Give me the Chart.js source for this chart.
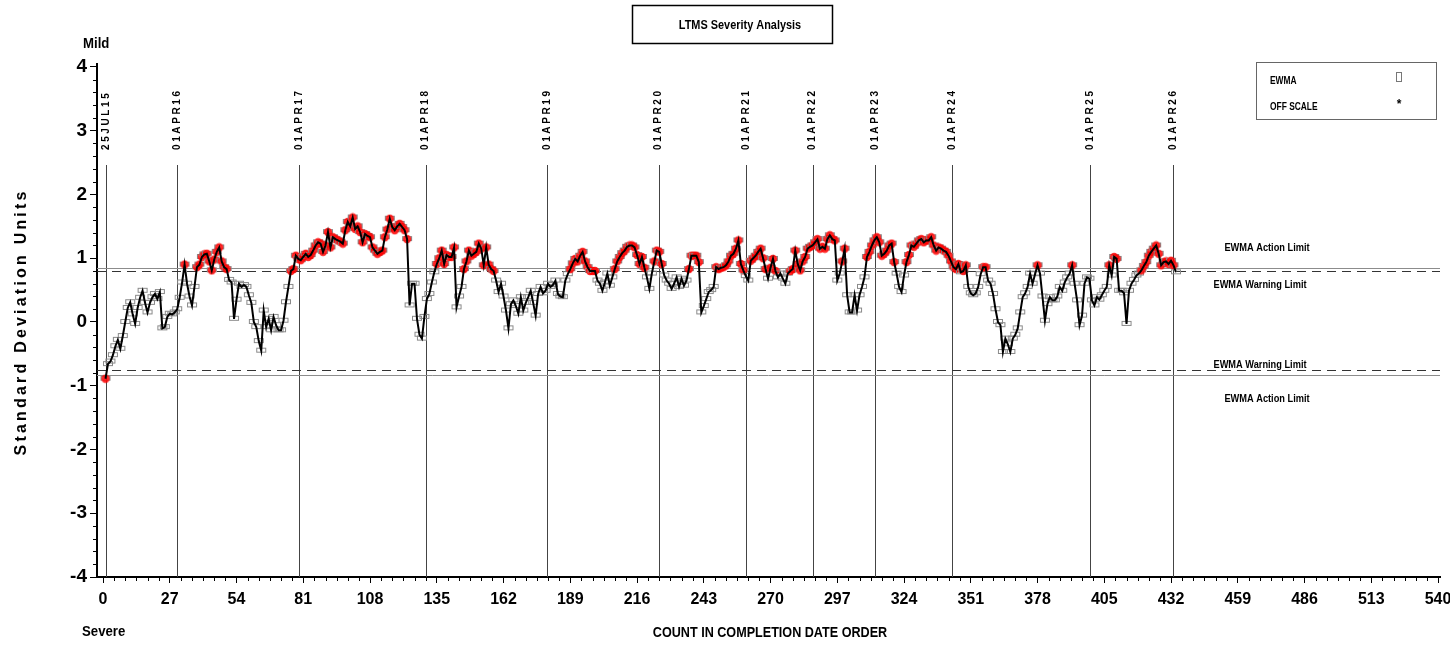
<!DOCTYPE html>
<html>
<head>
<meta charset="utf-8">
<title>LTMS Severity Analysis</title>
<script src="https://cdn.jsdelivr.net/npm/chart.js@4.4.0/dist/chart.umd.min.js"></script>
<style>
  html, body { margin: 0; padding: 0; background: #fff; }
  #wrap { width: 1450px; height: 645px; }
</style>
</head>
<body>
<div id="wrap"><canvas id="myChart" width="1450" height="645"></canvas></div>
<script>
// EWMA values, one per test, in completion date order (count 1..434)
const ewma = [
  -0.89, -0.66, -0.62, -0.52, -0.38, -0.28, -0.42, -0.22, 0.00, 0.22,
   0.31,  0.12, -0.03,  0.22,  0.38,  0.49,  0.30,  0.15, 0.30, 0.39,
   0.44,  0.36,  0.47, -0.10, -0.08,  0.08,  0.13,  0.12, 0.15, 0.20,
   0.38,  0.62,  0.90,  0.60,  0.40,  0.26,  0.55,  0.86, 0.90, 1.02,
   1.06,  1.07,  0.95,  0.81,  0.98,  1.10,  1.17,  0.95, 0.86, 0.83,
   0.66,  0.62,  0.05,  0.35,  0.60,  0.55,  0.58,  0.55, 0.42, 0.30,
   0.00, -0.08, -0.30, -0.45,  0.18, -0.08,  0.05, -0.13, 0.08, -0.05,
  -0.13, -0.13,  0.02,  0.31,  0.55,  0.80,  0.83,  1.04, 0.99, 0.97,
   1.02,  1.07,  1.02,  1.05,  1.12,  1.20,  1.25,  1.23, 1.10, 1.20,
   1.41,  1.17,  1.33,  1.30,  1.28,  1.26,  1.23,  1.44, 1.57, 1.50,
   1.64,  1.46,  1.50,  1.41,  1.25,  1.38,  1.35,  1.33, 1.17, 1.12,
   1.07,  1.10,  1.12,  1.33,  1.45,  1.62,  1.49,  1.44, 1.50, 1.54,
   1.49,  1.44,  1.30,  0.26,  0.60,  0.60,  0.05, -0.20, -0.26, 0.08,
   0.36,  0.44,  0.62,  0.78,  0.91,  1.00,  1.12,  0.91, 1.05, 1.02,
   1.02,  1.17,  0.23,  0.40,  0.55,  0.83,  0.95,  1.12, 1.04, 1.07,
   1.10,  1.23,  1.15,  0.89,  1.17,  0.90,  0.83,  0.80, 0.65, 0.47,
   0.60,  0.40,  0.18, -0.10,  0.28,  0.34,  0.25,  0.13, 0.39, 0.18,
   0.30,  0.39,  0.49,  0.30,  0.10,  0.44,  0.55,  0.45, 0.49, 0.60,
   0.55,  0.58,  0.65,  0.44,  0.40,  0.39,  0.65,  0.75, 0.83, 0.92,
   0.99,  0.95,  1.04,  1.10,  0.95,  0.86,  0.80,  0.80, 0.80, 0.65,
   0.60,  0.49,  0.62,  0.76,  0.57,  0.70,  0.83,  0.95, 1.02, 1.08,
   1.12,  1.18,  1.20,  1.20,  1.17,  1.05,  0.91,  1.02, 0.85, 0.70,
   0.52,  0.76,  0.95,  1.12,  1.10,  0.91,  0.73,  0.65, 0.60, 0.52,
   0.60,  0.70,  0.55,  0.68,  0.57,  0.65,  0.83,  1.04, 1.04, 1.04,
   0.94,  0.15,  0.25,  0.36,  0.47,  0.50,  0.55,  0.86, 0.83, 0.85,
   0.86,  0.89,  0.95,  1.04,  1.07,  1.15,  1.28,  0.91, 0.81, 0.72,
   0.65,  0.96,  1.00,  1.04,  1.10,  1.15,  1.00,  0.83, 0.68, 0.85,
   0.99,  0.80,  0.70,  0.76,  0.68,  0.60,  0.76,  0.80, 0.83, 1.12,
   0.91,  0.81,  0.95,  1.02,  1.15,  1.18,  1.20,  1.25, 1.30, 1.15,
   1.18,  1.15,  1.30,  1.36,  1.30,  1.28,  0.65,  0.76, 0.95, 1.15,
   0.42,  0.15,  0.15,  0.42,  0.18,  0.42,  0.55,  0.70, 1.02, 1.10,
   1.20,  1.28,  1.33,  1.25,  1.04,  1.07,  1.12,  1.20, 1.23, 0.94,
   0.76,  0.55,  0.47,  0.73,  0.94,  1.05,  1.20,  1.18, 1.23, 1.28,
   1.30,  1.25,  1.28,  1.28,  1.33,  1.20,  1.12,  1.17, 1.15, 1.12,
   1.10,  1.04,  0.95,  0.86,  0.83,  0.91,  0.78,  0.80, 0.89, 0.55,
   0.45,  0.42,  0.45,  0.55,  0.75,  0.86,  0.86,  0.65, 0.60, 0.44,
   0.20,  0.00, -0.05, -0.47, -0.26, -0.35, -0.47, -0.26, -0.20, -0.10,
   0.15,  0.39,  0.45,  0.55,  0.76,  0.60,  0.75,  0.89, 0.76, 0.40,
   0.02,  0.28,  0.39,  0.34,  0.34,  0.40,  0.55,  0.49, 0.62, 0.70,
   0.76,  0.89,  0.60,  0.34, -0.05,  0.10,  0.60,  0.70, 0.68, 0.34,
   0.26,  0.39,  0.35,  0.42,  0.49,  0.55,  0.89,  0.73, 1.02, 0.99,
   0.49,  0.49,  0.45, -0.03,  0.49,  0.60,  0.66,  0.73, 0.76, 0.81,
   0.88,  0.94,  1.04,  1.10,  1.15,  1.20,  1.07,  0.89, 0.94, 0.95,
   0.91,  0.96,  0.89,  0.78
];

const xTicks = [0, 27, 54, 81, 108, 135, 162, 189, 216, 243, 270, 297, 324, 351, 378, 405, 432, 459, 486, 513, 540];
const yTicks = [-4, -3, -2, -1, 0, 1, 2, 3, 4];

// reference dates marked as vertical lines (position = count)
const dateLabels = ['25JUL15', '01APR16', '01APR17', '01APR18', '01APR19', '01APR20', '01APR21', '01APR22', '01APR23', '01APR24', '01APR25', '01APR26'];
const dateCounts = [1.2, 30, 79.3, 130.5, 179.7, 224.7, 260.1, 287, 312.2, 343.6, 399.4, 433];

// EWMA limits
const upperAction = 0.85;
const upperWarning = 0.795;
const lowerWarning = -0.75;
const lowerAction = -0.835;

const FONT = "'Liberation Sans Narrow', 'Liberation Sans', Arial, sans-serif";

const points = ewma.map((v, i) => ({ x: i + 1, y: v }));

// marker images: open grey box, and red dot for values beyond the warning limits
function makeMarker(red) {
    const c = document.createElement('canvas');
    c.width = 12; c.height = 10;
    const g = c.getContext('2d');
    g.strokeStyle = '#8a8a8a';
    g.lineWidth = 1;
    g.strokeRect(1.5, 2.5, 9, 4);
    if (red) {
        g.fillStyle = 'rgba(255, 0, 0, 0.85)';
        g.beginPath();
        g.arc(6, 5, 4.2, 0, Math.PI * 2);
        g.fill();
    }
    return c;
}
const boxImg = makeMarker(false);
const redImg = makeMarker(true);

// text squeezed horizontally, to look like the narrow font of the original
function narrowText(ctx, text, x, y, sx) {
    ctx.save();
    ctx.translate(x, y);
    ctx.scale(sx, 1);
    ctx.fillText(text, 0, 0);
    ctx.restore();
}
function spacedText(ctx, text, x, y, spacing) {
    let cx = x;
    for (const ch of text) {
        ctx.fillText(ch, cx, y);
        cx += ctx.measureText(ch).width + spacing;
    }
}
function spacedWidth(ctx, text, spacing) {
    let w = 0;
    for (const ch of text) w += ctx.measureText(ch).width + spacing;
    return w - spacing;
}

const decor = {
    id: 'decor',
    beforeDatasetsDraw(chart) {
        const { ctx, chartArea: a, scales: { x, y } } = chart;
        ctx.save();

        // vertical date lines
        ctx.strokeStyle = '#444';
        ctx.lineWidth = 1;
        dateCounts.forEach(c => {
            const px = Math.round(x.getPixelForValue(c)) + 0.5;
            ctx.beginPath();
            ctx.moveTo(px, 165);
            ctx.lineTo(px, a.bottom);
            ctx.stroke();
        });

        // action limits (solid grey)
        ctx.strokeStyle = '#8c8c8c';
        [upperAction, lowerAction].forEach(v => {
            const py = Math.round(y.getPixelForValue(v)) + 0.5;
            ctx.beginPath();
            ctx.moveTo(a.left, py);
            ctx.lineTo(a.right, py);
            ctx.stroke();
        });

        // warning limits (dashed)
        ctx.strokeStyle = '#333';
        ctx.setLineDash([9, 6]);
        [upperWarning, lowerWarning].forEach(v => {
            const py = Math.round(y.getPixelForValue(v)) + 0.5;
            ctx.beginPath();
            ctx.moveTo(a.left, py);
            ctx.lineTo(a.right, py);
            ctx.stroke();
        });
        ctx.restore();
    },
    afterDraw(chart) {
        const { ctx, chartArea: a, scales: { x, y } } = chart;
        ctx.save();
        ctx.fillStyle = '#000';

        // minor ticks
        ctx.strokeStyle = '#000';
        ctx.lineWidth = 1;
        for (let v = -4; v < 4; v += 0.2) {
            if (Math.abs(v - Math.round(v)) < 0.01) continue;
            const py = Math.round(y.getPixelForValue(v)) + 0.5;
            ctx.beginPath(); ctx.moveTo(a.left - 4, py); ctx.lineTo(a.left, py); ctx.stroke();
        }
        for (let v = 0; v < 540; v += 4.5) {
            if (v % 27 === 0) continue;
            const px = Math.round(x.getPixelForValue(v)) + 0.5;
            ctx.beginPath(); ctx.moveTo(px, a.bottom); ctx.lineTo(px, a.bottom + 4); ctx.stroke();
        }

        // date labels, reading bottom to top, letter spaced
        ctx.font = 'bold 10px ' + FONT;
        ctx.textBaseline = 'middle';
        ctx.textAlign = 'left';
        dateLabels.forEach((t, i) => {
            const px = x.getPixelForValue(dateCounts[i]);
            ctx.save();
            ctx.translate(px, 150);
            ctx.rotate(-Math.PI / 2);
            spacedText(ctx, t, 0, 0, 2.6);
            ctx.restore();
        });

        // limit labels
        ctx.font = 'bold 11px ' + FONT;
        ctx.textAlign = 'center';
        ctx.textBaseline = 'middle';
        narrowText(ctx, 'EWMA Action Limit', 1267, y.getPixelForValue(upperAction) - 20, 0.84);
        narrowText(ctx, 'EWMA Warning Limit', 1260, y.getPixelForValue(upperWarning) + 14, 0.84);
        narrowText(ctx, 'EWMA Warning Limit', 1260, y.getPixelForValue(lowerWarning) - 5, 0.84);
        narrowText(ctx, 'EWMA Action Limit', 1267, y.getPixelForValue(lowerAction) + 24, 0.84);

        // title box
        ctx.lineWidth = 1.5;
        ctx.strokeRect(632.5, 5.5, 200, 38);
        ctx.font = 'bold 13px ' + FONT;
        narrowText(ctx, 'LTMS Severity Analysis', 740, 25, 0.84);

        // legend box
        ctx.lineWidth = 1;
        ctx.strokeStyle = '#666';
        ctx.strokeRect(1256.5, 62.5, 180, 57);
        ctx.textAlign = 'left';
        ctx.font = 'bold 10px ' + FONT;
        narrowText(ctx, 'EWMA', 1270, 81, 0.84);
        narrowText(ctx, 'OFF SCALE', 1270, 107, 0.84);
        ctx.strokeStyle = '#777';
        ctx.strokeRect(1396.5, 72.5, 5, 9);
        ctx.font = 'bold 12px ' + FONT;
        ctx.textAlign = 'center';
        ctx.fillText('*', 1399, 105);

        // Mild / Severe
        ctx.font = 'bold 15px ' + FONT;
        ctx.textAlign = 'left';
        narrowText(ctx, 'Mild', 83, 44, 0.88);
        narrowText(ctx, 'Severe', 82, 632, 0.88);

        // x-axis title
        ctx.font = 'bold 14px ' + FONT;
        ctx.textAlign = 'center';
        narrowText(ctx, 'COUNT IN COMPLETION DATE ORDER', 770, 633, 0.9);

        // y-axis title, letter spaced
        ctx.font = 'bold 16px ' + FONT;
        ctx.textAlign = 'left';
        const title = 'Standard Deviation Units';
        const w = spacedWidth(ctx, title, 3.2);
        ctx.save();
        ctx.translate(22, (a.top + a.bottom) / 2 + 3 + w / 2);
        ctx.rotate(-Math.PI / 2);
        spacedText(ctx, title, 0, 0, 3.2);
        ctx.restore();

        ctx.restore();
    }
};

new Chart(document.getElementById('myChart'), {
    type: 'line',
    data: {
        datasets: [
            {
                label: 'EWMA line',
                data: points,
                borderColor: '#000',
                borderWidth: 2,
                pointRadius: 0,
                tension: 0,
                order: 1
            },
            {
                label: 'EWMA',
                data: points,
                showLine: false,
                pointStyle: c => (c.raw && (c.raw.y >= upperWarning || c.raw.y <= lowerWarning)) ? redImg : boxImg,
                pointRadius: 5,
                order: 2
            }
        ]
    },
    options: {
        responsive: false,
        animation: false,
        layout: { padding: { top: 64, right: 10, left: 0, bottom: 0 } },
        plugins: { legend: { display: false }, tooltip: { enabled: false } },
        scales: {
            x: {
                type: 'linear',
                min: -2.43,
                max: 540.8,
                afterBuildTicks: s => { s.ticks = xTicks.map(v => ({ value: v })); },
                afterFit: s => { s.height = 68; s.paddingLeft = 0; s.paddingRight = 0; },
                grid: { drawOnChartArea: false, tickLength: 6, color: '#000' },
                border: { color: '#000', width: 2 },
                ticks: { color: '#000', font: { family: FONT, size: 16, weight: 'bold' }, padding: 7, maxRotation: 0, autoSkip: false }
            },
            y: {
                type: 'linear',
                min: -4,
                max: 4.047,
                afterBuildTicks: s => { s.ticks = yTicks.map(v => ({ value: v })); },
                afterFit: s => { s.width = 97; s.paddingTop = 0; s.paddingBottom = 0; },
                grid: { drawOnChartArea: false, tickLength: 7, color: '#000' },
                border: { color: '#000', width: 2 },
                ticks: { color: '#000', font: { family: FONT, size: 19, weight: 'bold' }, padding: 3 }
            }
        }
    },
    plugins: [decor]
});
</script>
</body>
</html>
